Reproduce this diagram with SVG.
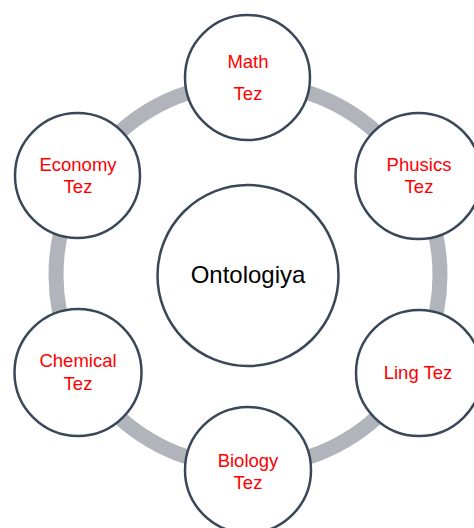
<svg xmlns="http://www.w3.org/2000/svg" width="474" height="528" viewBox="0 0 474 528">
<style>
.ring{fill:none;stroke:#b1b4ba;stroke-width:15}
.node{fill:#ffffff;stroke:#3a4759;stroke-width:2.5}
.lbl{font-family:"Liberation Sans",Arial,sans-serif;font-size:18.5px;fill:#ff0000;text-anchor:middle}
.main{font-family:"Liberation Sans",Arial,sans-serif;font-size:24px;fill:#000000;text-anchor:middle}
</style>
<rect width="474" height="528" fill="#ffffff"/>
<g id="connectors">
<circle class="ring" cx="248" cy="275" r="192"/>
</g>
<g id="center">
<circle class="node" cx="248" cy="275.5" r="90.5"/>
<text class="main" x="248" y="283">Ontologiya</text>
</g>
<g id="math">
<circle class="node" cx="247.5" cy="77.5" r="62.5"/>
<text class="lbl" x="248" y="68">Math</text>
<text class="lbl" x="248" y="100">Tez</text>
</g>
<g id="phusics">
<circle class="node" cx="418.5" cy="176" r="63"/>
<text class="lbl" x="419" y="171">Phusics</text>
<text class="lbl" x="419" y="193">Tez</text>
</g>
<g id="ling">
<circle class="node" cx="419" cy="373" r="63"/>
<text class="lbl" x="418" y="379">Ling Tez</text>
</g>
<g id="biology">
<circle class="node" cx="248" cy="470" r="63"/>
<text class="lbl" x="248" y="467">Biology</text>
<text class="lbl" x="248" y="489">Tez</text>
</g>
<g id="chemical">
<circle class="node" cx="78" cy="372.5" r="63.5"/>
<text class="lbl" x="78" y="367">Chemical</text>
<text class="lbl" x="78" y="390">Tez</text>
</g>
<g id="economy">
<circle class="node" cx="77.5" cy="175.5" r="62.5"/>
<text class="lbl" x="78" y="171">Economy</text>
<text class="lbl" x="78" y="193">Tez</text>
</g>
</svg>
